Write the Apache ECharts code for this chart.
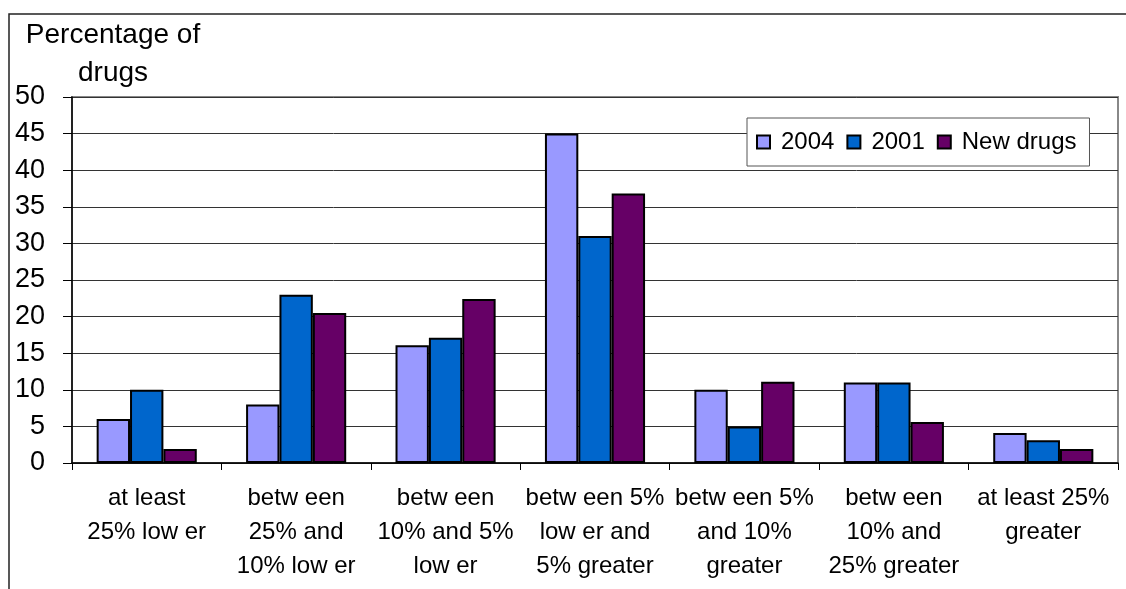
<!DOCTYPE html>
<html>
<head>
<meta charset="utf-8">
<script src="https://cdn.jsdelivr.net/npm/echarts@6/dist/echarts.min.js"></script>
<style>
  html, body { margin: 0; padding: 0; background: #ffffff; }
  #chart { width: 1126px; height: 589px; }
</style>
</head>
<body>
<div id="chart"></div>
<script>
const categories = [
  "at least\n25% low er",
  "betw een\n25% and\n10% low er",
  "betw een\n10% and 5%\nlow er",
  "betw een 5%\nlow er and\n5% greater",
  "betw een 5%\nand 10%\ngreater",
  "betw een\n10% and\n25% greater",
  "at least 25%\ngreater"
];
const seriesNames = ["2004", "2001", "New drugs"];
const values2004 = [6, 8, 16.1, 45, 10, 11, 4.1];
const values2001 = [10, 23, 17.1, 31, 5, 11, 3.1];
const valuesNew = [1.9, 20.5, 22.4, 36.8, 11.1, 5.6, 1.9];
const yTicks = { min: 0, max: 50, interval: 5 };
const colors = ["#9999FF", "#0066CC", "#660066"];

const fontFamily = "Liberation Sans, Arial, sans-serif";
const chart = echarts.init(document.getElementById("chart"), null, { renderer: "canvas" });

const seriesData = [values2004, values2001, valuesNew];

chart.setOption({
  animation: false,
  backgroundColor: "#ffffff",
  textStyle: { fontFamily: fontFamily, color: "#000" },
  title: {
    text: "Percentage of\ndrugs",
    left: 113,
    top: 16,
    padding: 0,
    textAlign: "center",
    textStyle: { fontSize: 28, fontWeight: "normal", color: "#000", lineHeight: 38, fontFamily: fontFamily }
  },
  legend: {
    left: 747,
    top: 118,
    orient: "horizontal",
    padding: [12, 13, 12, 9],
    itemGap: 12,
    itemWidth: 13,
    itemHeight: 13,
    icon: "rect",
    backgroundColor: "#ffffff",
    borderColor: "#555",
    borderWidth: 1,
    textStyle: { fontSize: 24, lineHeight: 24, color: "#000", padding: [0, 0, 0, 6], fontFamily: fontFamily },
    data: seriesNames
  },
  grid: {
    left: 72, top: 97, right: 8, bottom: 126,
    show: true, borderColor: "#888", borderWidth: 2, backgroundColor: "#fff",
    containLabel: false
  },
  xAxis: {
    type: "category",
    data: categories,
    axisLine: { show: true, lineStyle: { color: "#000", width: 1.5 } },
    axisTick: { show: true, length: 7, lineStyle: { color: "#000", width: 1 } },
    axisLabel: { interval: 0, fontSize: 24, lineHeight: 34, margin: 18, color: "#000", align: "center", fontFamily: fontFamily },
    splitLine: { show: false }
  },
  yAxis: {
    type: "value",
    min: yTicks.min,
    max: yTicks.max,
    interval: yTicks.interval,
    axisLine: { show: true, lineStyle: { color: "#000", width: 1.5 } },
    axisTick: { show: true, length: 9, inside: false, lineStyle: { color: "#000", width: 1 } },
    axisLabel: { fontSize: 27, margin: 27, color: "#000", fontFamily: fontFamily },
    splitLine: { show: true, lineStyle: { color: "#333", width: 1 } }
  },
  series: seriesNames.map(function (name, i) {
    return {
      name: name,
      type: "bar",
      data: seriesData[i],
      barGap: "0%",
      barCategoryGap: "33%",
      itemStyle: { color: colors[i], borderColor: "#000", borderWidth: 2 }
    };
  }),
  graphic: [
    {
      type: "polyline",
      silent: true,
      shape: { points: [[9, 589], [9, 14], [1126, 14]] },
      style: { stroke: "#222", lineWidth: 1.5, fill: null }
    }
  ]
});
</script>
</body>
</html>
